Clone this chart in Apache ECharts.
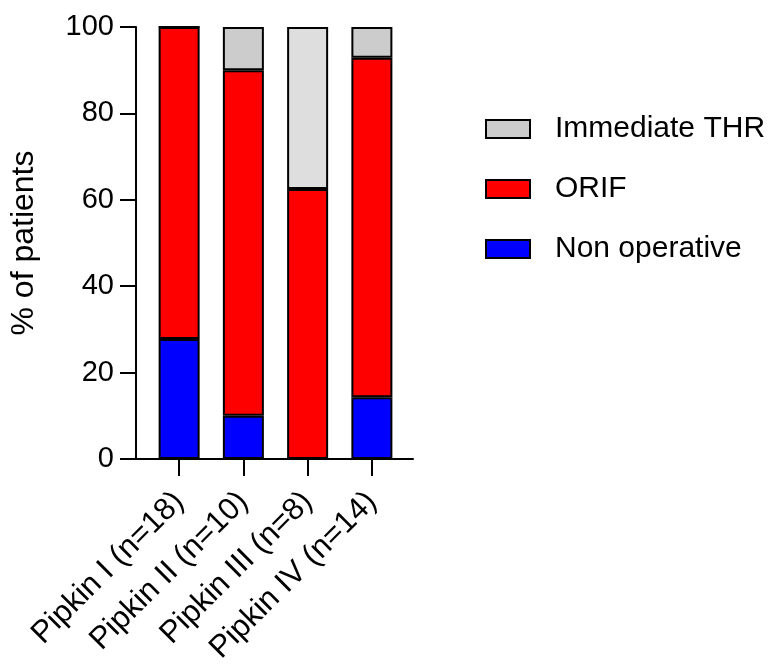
<!DOCTYPE html>
<html>
<head>
<meta charset="utf-8">
<script src="https://cdn.jsdelivr.net/npm/echarts@6/dist/echarts.min.js"></script>
<style>html,body{margin:0;padding:0;background:#fff}#c{width:769px;height:666px}</style>
</head>
<body>
<div id="c"></div>
<script>
const categories = ['Pipkin I (n=18)', 'Pipkin II (n=10)', 'Pipkin III (n=8)', 'Pipkin IV (n=14)'];
const nonOperative = [27.8, 10, 0, 14.3];
const orif = [72.2, 80, 62.5, 78.6];
const immediateTHR = [0, 10, 37.5, 7.1];
const yTicks = [0, 20, 40, 60, 80, 100];

const FONT = 'Liberation Sans, Arial, Helvetica, sans-serif';
const chart = echarts.init(document.getElementById('c'));
const border = { borderColor: '#000', borderWidth: 2 };

chart.setOption({
  animation: false,
  backgroundColor: '#fff',
  textStyle: { fontFamily: FONT },
  grid: [
    { left: 147, right: 365, top: 27, bottom: 207, containLabel: false, outerBoundsMode: 'none' },
    { left: 136, right: 356, top: 27, bottom: 207, containLabel: false, outerBoundsMode: 'none' }
  ],
  xAxis: [
    {
      type: 'category', gridIndex: 0, data: categories, boundaryGap: true,
      axisLine: { show: false },
      axisTick: { show: true, alignWithLabel: true, length: 17, lineStyle: { color: '#000', width: 2 } },
      axisLabel: { rotate: 45, margin: 38, fontSize: 31, color: '#000', fontFamily: FONT, interval: 0 }
    },
    {
      type: 'value', gridIndex: 1, min: 0, max: 277, interval: 1000,
      axisLine: { show: true, onZero: false, lineStyle: { color: '#000', width: 2 } },
      axisTick: { show: false }, axisLabel: { show: false },
      splitLine: { show: true, showMinLine: true, showMaxLine: false, lineStyle: { color: '#000', width: 2, type: 'solid' } }
    }
  ],
  yAxis: [
    { type: 'value', gridIndex: 0, min: 0, max: 100, interval: 20, show: false },
    {
      type: 'value', gridIndex: 1, min: 0, max: 100, interval: 20,
      name: '% of patients', nameLocation: 'middle', nameGap: 96,
      nameTextStyle: { fontSize: 32, color: '#000', fontFamily: FONT },
      splitLine: { show: false },
      axisLine: { show: true, lineStyle: { color: '#000', width: 2 } },
      axisTick: { show: true, length: 16, lineStyle: { color: '#000', width: 2 } },
      axisLabel: { fontSize: 29, color: '#000', margin: 22, fontFamily: FONT,
        formatter: v => yTicks.includes(v) ? String(v) : '' }
    }
  ],
  legend: {
    orient: 'vertical', left: 480, top: 109,
    data: ['Immediate THR', 'ORIF', 'Non operative'],
    itemWidth: 44, itemHeight: 18, itemGap: 30, icon: 'rect',
    textStyle: { fontSize: 30, color: '#000', fontFamily: FONT, padding: [0, 0, 0, 20], lineHeight: 30 }
  },
  series: [
    { name: 'Non operative', type: 'bar', stack: 'total', barWidth: 41, xAxisIndex: 0, yAxisIndex: 0,
      itemStyle: Object.assign({ color: '#0000FF' }, border), data: nonOperative },
    { name: 'ORIF', type: 'bar', stack: 'total', barWidth: 41, xAxisIndex: 0, yAxisIndex: 0,
      itemStyle: Object.assign({ color: '#FF0000' }, border), data: orif },
    { name: 'Immediate THR', type: 'bar', stack: 'total', barWidth: 41, xAxisIndex: 0, yAxisIndex: 0,
      itemStyle: Object.assign({ color: '#CCCCCC' }, border),
      data: immediateTHR.map((v, i) => i === 2 ? { value: v, itemStyle: { color: '#DEDEDE' } } : v) }
  ]
});
</script>
</body>
</html>
